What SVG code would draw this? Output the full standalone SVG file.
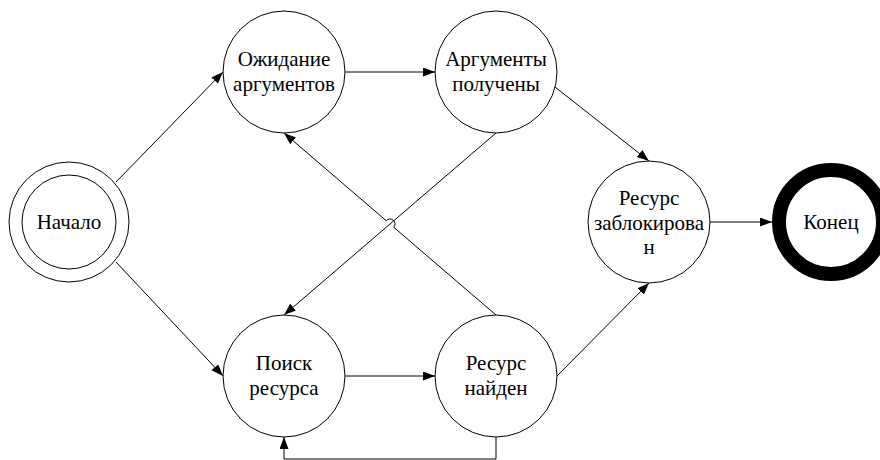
<svg xmlns="http://www.w3.org/2000/svg" width="880" height="460" viewBox="0 0 880 460">
  <defs>
    <marker id="arrow" markerUnits="userSpaceOnUse" markerWidth="13" markerHeight="10" refX="12" refY="4.5" orient="auto">
      <path d="M0,0 L12,4.5 L0,9 z" fill="#000"/>
    </marker>
  </defs>
  <style>
    .node { fill: #fff; stroke: #000; stroke-width: 1; }
    .label { font-family: 'Liberation Serif', 'Times New Roman', serif; font-size: 21px; fill: #000; text-anchor: middle; }
    .edge { fill: none; stroke: #000; stroke-width: 1; marker-end: url(#arrow); }
  </style>
  <rect width="880" height="460" fill="#fff"/>

  <g id="connectors">
    <line class="edge" x1="116" y1="182" x2="223" y2="72"/>
    <line class="edge" x1="116" y1="262" x2="223" y2="376"/>
    <line class="edge" x1="345" y1="72" x2="435" y2="72"/>
    <line class="edge" x1="345" y1="376" x2="435" y2="376"/>
    <line class="edge" x1="555" y1="87" x2="649" y2="161"/>
    <line class="edge" x1="557" y1="376" x2="649" y2="283"/>
    <line class="edge" x1="710" y1="222" x2="772" y2="222"/>
    <line class="edge" x1="496" y1="133" x2="284" y2="315"/>
    <path class="edge" d="M496 315 L393.8 227.3 A5 5 0 0 0 386.2 220.7 L284 133"/>
    <path class="edge" d="M496 437 L496 459 L284 459 L284 437"/>
  </g>

  <g id="start">
    <circle class="node" cx="69" cy="222" r="60"/>
    <circle class="node" cx="69" cy="222" r="47"/>
    <text class="label" x="69" y="229">Начало</text>
  </g>
  <g id="waiting">
    <circle class="node" cx="284" cy="72" r="61"/>
    <text class="label" x="284" y="66">Ожидание</text>
    <text class="label" x="284" y="91">аргументов</text>
  </g>
  <g id="received">
    <circle class="node" cx="496" cy="72" r="61"/>
    <text class="label" x="496" y="66">Аргументы</text>
    <text class="label" x="496" y="91">получены</text>
  </g>
  <g id="search">
    <circle class="node" cx="284" cy="376" r="61"/>
    <text class="label" x="284" y="370">Поиск</text>
    <text class="label" x="284" y="395">ресурса</text>
  </g>
  <g id="found">
    <circle class="node" cx="496" cy="376" r="61"/>
    <text class="label" x="496" y="370">Ресурс</text>
    <text class="label" x="496" y="395">найден</text>
  </g>
  <g id="locked">
    <circle class="node" cx="649" cy="222" r="61"/>
    <text class="label" x="649" y="205">Ресурс</text>
    <text class="label" x="649" y="230">заблокирова</text>
    <text class="label" x="649" y="254">н</text>
  </g>
  <g id="end">
    <circle cx="831" cy="222" r="52" fill="#fff" stroke="#000" stroke-width="14"/>
    <text class="label" x="831" y="229">Конец</text>
  </g>
</svg>
